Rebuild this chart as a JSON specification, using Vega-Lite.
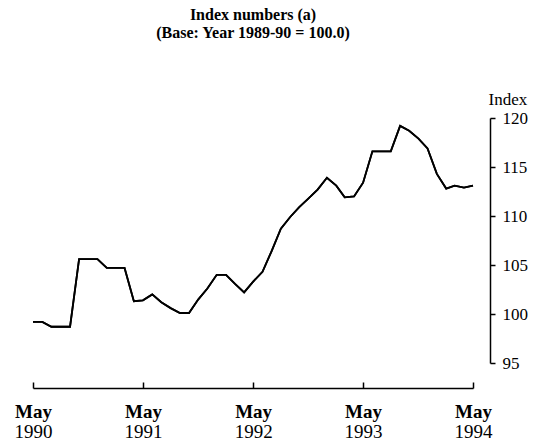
{
  "$schema": "https://vega.github.io/schema/vega-lite/v6.json",
  "width": 440,
  "height": 245,
  "autosize": {"type": "none"},
  "padding": {"left": 33, "top": 118, "right": 65, "bottom": 79},
  "background": "white",
  "config": {"view": {"stroke": null}, "font": "Liberation Serif"},
  "title": {
    "text": ["Index numbers (a)", "(Base: Year 1989-90 = 100.0)"],
    "font": "Liberation Serif",
    "fontSize": 16,
    "fontWeight": "bold",
    "lineHeight": 18,
    "offset": 49,
    "color": "black"
  },
  "data": {
    "values": [
      {"date": "1990-05-01", "index": 99.2},
      {"date": "1990-06-01", "index": 99.2},
      {"date": "1990-07-01", "index": 98.7},
      {"date": "1990-08-01", "index": 98.7},
      {"date": "1990-09-01", "index": 98.7},
      {"date": "1990-10-01", "index": 105.6},
      {"date": "1990-11-01", "index": 105.6},
      {"date": "1990-12-01", "index": 105.6},
      {"date": "1991-01-01", "index": 104.7},
      {"date": "1991-02-01", "index": 104.7},
      {"date": "1991-03-01", "index": 104.7},
      {"date": "1991-04-01", "index": 101.3},
      {"date": "1991-05-01", "index": 101.4},
      {"date": "1991-06-01", "index": 102.0},
      {"date": "1991-07-01", "index": 101.2},
      {"date": "1991-08-01", "index": 100.6},
      {"date": "1991-09-01", "index": 100.1},
      {"date": "1991-10-01", "index": 100.1},
      {"date": "1991-11-01", "index": 101.5},
      {"date": "1991-12-01", "index": 102.6},
      {"date": "1992-01-01", "index": 104.0},
      {"date": "1992-02-01", "index": 104.0},
      {"date": "1992-03-01", "index": 103.1},
      {"date": "1992-04-01", "index": 102.2},
      {"date": "1992-05-01", "index": 103.3},
      {"date": "1992-06-01", "index": 104.3},
      {"date": "1992-07-01", "index": 106.4},
      {"date": "1992-08-01", "index": 108.7},
      {"date": "1992-09-01", "index": 109.9},
      {"date": "1992-10-01", "index": 110.9},
      {"date": "1992-11-01", "index": 111.8},
      {"date": "1992-12-01", "index": 112.7},
      {"date": "1993-01-01", "index": 113.9},
      {"date": "1993-02-01", "index": 113.1},
      {"date": "1993-03-01", "index": 111.9},
      {"date": "1993-04-01", "index": 112.0},
      {"date": "1993-05-01", "index": 113.4},
      {"date": "1993-06-01", "index": 116.6},
      {"date": "1993-07-01", "index": 116.6},
      {"date": "1993-08-01", "index": 116.6},
      {"date": "1993-09-01", "index": 119.2},
      {"date": "1993-10-01", "index": 118.7},
      {"date": "1993-11-01", "index": 117.9},
      {"date": "1993-12-01", "index": 116.9},
      {"date": "1994-01-01", "index": 114.3},
      {"date": "1994-02-01", "index": 112.8},
      {"date": "1994-03-01", "index": 113.1},
      {"date": "1994-04-01", "index": 112.9},
      {"date": "1994-05-01", "index": 113.1}
    ]
  },
  "encoding": {
    "y": {
      "field": "index",
      "type": "quantitative",
      "scale": {"domain": [95, 120], "nice": false, "zero": false},
      "axis": {
        "orient": "right",
        "offset": 17,
        "values": [95, 100, 105, 110, 115, 120],
        "grid": false,
        "domainColor": "black",
        "domainWidth": 1.5,
        "tickColor": "black",
        "tickSize": 5,
        "tickWidth": 1.5,
        "labelPadding": 7,
        "labelFont": "Liberation Serif",
        "labelFontSize": 17,
        "labelColor": "black",
        "labelBaseline": "middle",
        "title": "Index",
        "titleFont": "Liberation Serif",
        "titleFontSize": 17,
        "titleFontWeight": "normal",
        "titleColor": "black",
        "titleAngle": 0,
        "titleAlign": "left",
        "titleBaseline": "alphabetic",
        "titleX": -2,
        "titleY": -14
      }
    }
  },
  "layer": [
    {
      "mark": {"type": "line", "color": "black", "strokeWidth": 1.8},
      "encoding": {
        "x": {
          "field": "date",
          "type": "temporal",
          "scale": {"type": "utc", "domain": [{"year": 1990, "month": 5, "date": 1, "utc": true}, {"year": 1994, "month": 5, "date": 1, "utc": true}]},
          "axis": {
            "orient": "bottom",
            "offset": 25,
            "values": [
              {"year": 1990, "month": 5, "date": 1, "utc": true},
              {"year": 1991, "month": 5, "date": 1, "utc": true},
              {"year": 1992, "month": 5, "date": 1, "utc": true},
              {"year": 1993, "month": 5, "date": 1, "utc": true},
              {"year": 1994, "month": 5, "date": 1, "utc": true}
            ],
            "labelExpr": "utcFormat(datum.value, '%b')",
            "grid": false,
            "domainColor": "black",
            "domainWidth": 1.5,
            "tickColor": "black",
            "tickWidth": 1.5,
            "tickSize": -6,
            "labelPadding": 35,
            "labelFont": "Liberation Serif",
            "labelFontSize": 19,
            "labelFontWeight": "bold",
            "labelColor": "black",
            "labelBaseline": "alphabetic",
            "labelFlush": false,
            "labelOverlap": false,
            "title": null
          }
        }
      }
    },
    {
      "mark": {"type": "line", "color": "black", "strokeWidth": 1.8},
      "encoding": {
        "x": {
          "field": "date",
          "type": "temporal",
          "scale": {"type": "utc", "domain": [{"year": 1990, "month": 5, "date": 1, "utc": true}, {"year": 1994, "month": 5, "date": 1, "utc": true}]},
          "axis": {
            "orient": "bottom",
            "offset": 25,
            "values": [
              {"year": 1990, "month": 5, "date": 1, "utc": true},
              {"year": 1991, "month": 5, "date": 1, "utc": true},
              {"year": 1992, "month": 5, "date": 1, "utc": true},
              {"year": 1993, "month": 5, "date": 1, "utc": true},
              {"year": 1994, "month": 5, "date": 1, "utc": true}
            ],
            "labelExpr": "utcFormat(datum.value, '%Y')",
            "grid": false,
            "domain": false,
            "ticks": false,
            "labelPadding": 49,
            "labelFont": "Liberation Serif",
            "labelFontSize": 19,
            "labelFontWeight": "normal",
            "labelColor": "black",
            "labelBaseline": "alphabetic",
            "labelFlush": false,
            "labelOverlap": false,
            "title": null
          }
        }
      }
    }
  ],
  "resolve": {"axis": {"x": "independent"}}
}
